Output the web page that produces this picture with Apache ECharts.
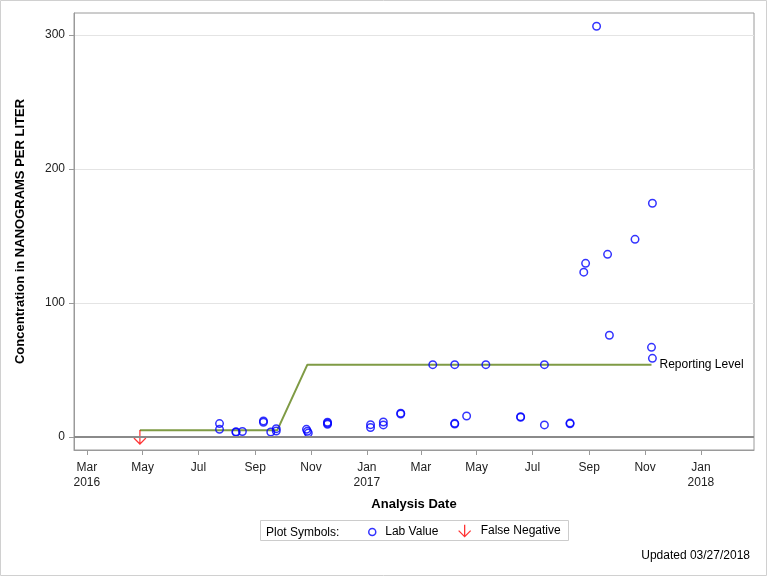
<!DOCTYPE html>
<html>
<head>
<meta charset="utf-8">
<script src="https://cdn.jsdelivr.net/npm/echarts@6/dist/echarts.min.js"></script>
<style>
  html, body { margin: 0; padding: 0; background: #fff; }
  #chart { width: 768px; height: 576px; }
</style>
</head>
<body>
<div id="chart"></div>
<script>
// ---- data ----
const labDates = [
  '2016-07-24','2016-07-24','2016-08-11','2016-08-11','2016-08-18',
  '2016-09-10','2016-09-10','2016-09-18','2016-09-24','2016-09-24',
  '2016-10-27','2016-10-28','2016-10-29','2016-11-19','2016-11-19','2016-11-19',
  '2017-01-05','2017-01-05','2017-01-19','2017-01-19','2017-02-07','2017-02-07',
  '2017-03-14','2017-04-07','2017-04-07','2017-04-07','2017-04-20','2017-05-11',
  '2017-06-18','2017-06-18','2017-07-14','2017-07-14','2017-08-11','2017-08-11',
  '2017-08-26','2017-08-28','2017-09-09','2017-09-21','2017-09-23','2017-10-21',
  '2017-11-08','2017-11-09','2017-11-09'
];
const labValues = [
  10, 5.7, 3.5, 4.0, 4.1,
  11, 12, 3.7, 4.5, 6.2,
  5.7, 4.3, 3.0, 11, 9.5, 10.3,
  9.2, 7.0, 11.2, 9.0, 17.2, 17.8,
  54, 9.7, 10.2, 54, 15.7, 54,
  14.7, 15.2, 9.0, 54, 9.9, 10.4,
  123, 129.6, 306.5, 136.3, 75.9, 147.5,
  66.9, 58.7, 174.4
];
const fnDates = ['2016-04-28'];
const fnValues = [0];
const rlDates = ['2016-04-28', '2016-09-25', '2016-10-28', '2017-11-08'];
const rlValues = [5, 5, 54, 54];
const tickDates = ['2016-03-01','2016-05-01','2016-07-01','2016-09-01','2016-11-01',
  '2017-01-01','2017-03-01','2017-05-01','2017-07-01','2017-09-01','2017-11-01','2018-01-01'];
const tickLabels = ['Mar\n2016','May','Jul','Sep','Nov','Jan\n2017','Mar','May','Jul','Sep','Nov','Jan\n2018'];
const yTicks = [0, 100, 200, 300];

// ---- chart ----
const FONT = '"Liberation Sans", Arial, Helvetica, sans-serif';
const t = d => echarts.time.parse(d).getTime();
const tickTimes = tickDates.map(t);
const chart = echarts.init(document.getElementById('chart'));

const arrowPath = 'path://M6,0L6,14M0,8L6,14L12,8';

chart.setOption({
  animation: false,
  backgroundColor: '#fff',
  textStyle: { fontFamily: FONT },
  grid: {
    left: 74, right: 14, top: 13, bottom: 126,
    show: true, borderColor: '#9a9a9a', borderWidth: 1, backgroundColor: 'transparent'
  },
  xAxis: {
    type: 'value',
    min: t('2016-02-16'),
    max: t('2018-02-28'),
    name: 'Analysis Date',
    nameLocation: 'middle',
    nameGap: 48,
    nameTextStyle: { fontSize: 13, fontWeight: 'bold', color: '#000', fontFamily: FONT },
    axisLine: { show: true, onZero: false, lineStyle: { color: '#9a9a9a' } },
    axisTick: { show: true, inside: false, length: 5, lineStyle: { color: '#9a9a9a' }, customValues: tickTimes },
    axisLabel: {
      customValues: tickTimes,
      fontSize: 12, color: '#222', lineHeight: 15, margin: 10, fontFamily: FONT,
      formatter: function (v) {
        const i = tickTimes.indexOf(v);
        return i >= 0 ? tickLabels[i] : '';
      }
    },
    splitLine: { show: false }
  },
  yAxis: {
    type: 'value',
    min: -9.7,
    max: 316.4,
    name: 'Concentration in NANOGRAMS PER LITER',
    nameLocation: 'middle',
    nameGap: 47,
    nameTextStyle: { fontSize: 13, fontWeight: 'bold', color: '#000', fontFamily: FONT },
    axisLine: { show: true, onZero: false, lineStyle: { color: '#9a9a9a' } },
    axisTick: { show: true, length: 5, lineStyle: { color: '#9a9a9a' }, customValues: yTicks },
    axisLabel: { customValues: yTicks, fontSize: 12, color: '#222', margin: 9, fontFamily: FONT },
    splitLine: { show: true, lineStyle: { color: '#e4e4e4', width: 1 } }
  },
  legend: [
    {
      data: [{ name: 'Lab Value', icon: 'circle',
        itemStyle: { color: 'transparent', borderColor: '#0000ff', borderWidth: 1.5 } }],
      left: 368, top: 526, itemWidth: 16, itemHeight: 7, padding: 0,
      textStyle: { fontSize: 12, color: '#000', fontFamily: FONT },
      selectedMode: false
    },
    {
      data: [{ name: 'False Negative', icon: 'path://M6,0L6,12M0,6L6,12L12,6',
        itemStyle: { color: 'transparent', borderColor: '#ff0000', borderWidth: 1.3 } }],
      left: 458, top: 524, itemWidth: 12, itemHeight: 12, padding: 0,
      textStyle: { fontSize: 12, color: '#000', fontFamily: FONT, padding: [0, 0, 0, 5] },
      selectedMode: false
    }
  ],
  graphic: [
    { type: 'rect', shape: { x: 0.5, y: 0.5, width: 766, height: 575 },
      style: { fill: 'none', stroke: '#d0d0d0', lineWidth: 1 }, silent: true },
    { type: 'rect', shape: { x: 260.5, y: 520.5, width: 308, height: 20 },
      style: { fill: 'none', stroke: '#cccccc', lineWidth: 1 }, silent: true },
    { type: 'text', left: 266, top: 526.5,
      style: { text: 'Plot Symbols:', fontSize: 12, fill: '#000', fontFamily: FONT }, silent: true },
    { type: 'text', right: 18, top: 550,
      style: { text: 'Updated 03/27/2018', fontSize: 12, fill: '#000', fontFamily: FONT }, silent: true }
  ],
  series: [
    {
      name: 'Reporting Level',
      type: 'line',
      data: rlDates.map((d, i) => [t(d), rlValues[i]]),
      symbol: 'none',
      lineStyle: { color: '#7f9b45', width: 2 },
      itemStyle: { color: '#7f9b45' },
      endLabel: { show: true, formatter: 'Reporting Level', fontSize: 12, color: '#000',
        distance: 8, fontFamily: FONT },
      silent: true,
      z: 2,
      markLine: {
        silent: true, symbol: 'none', label: { show: false },
        lineStyle: { color: '#8a8a8a', width: 2, type: 'solid' },
        data: [{ yAxis: 0 }]
      }
    },
    {
      name: 'Lab Value',
      type: 'scatter',
      data: labDates.map((d, i) => [t(d), labValues[i]]),
      symbol: 'circle',
      symbolSize: 7.5,
      itemStyle: { color: 'transparent', borderColor: '#0000ff', borderWidth: 1.5 },
      z: 3
    },
    {
      name: 'False Negative',
      type: 'scatter',
      data: fnDates.map((d, i) => [t(d), fnValues[i]]),
      symbol: arrowPath,
      symbolSize: [12, 14],
      itemStyle: { color: 'transparent', borderColor: '#ff0000', borderWidth: 1.3 },
      z: 4
    }
  ]
});
</script>
</body>
</html>
